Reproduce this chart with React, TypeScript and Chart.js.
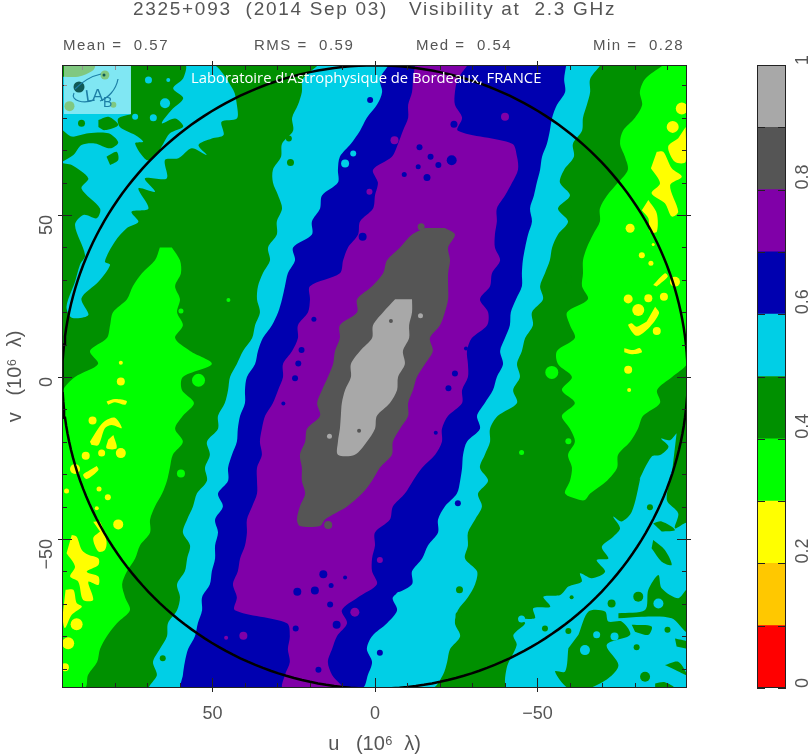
import React, { useEffect, useRef } from "react";
import { Chart, registerables } from "chart.js";

Chart.register(...registerables);

const vRows = [96,92,88,84,80,76,72,68,64,60,56,52,48,44,40,36,32,28,24,20,16,12,8,4,0,-4,-8,-12,-16,-20,-24,-28,-32,-36,-40,-44,-48,-52,-56,-60,-64,-68,-72,-76,-80,-84,-88,-92,-96];
const cyanLeft = [17.8,22.2,22.5,23.7,25.5,25.2,28.6,28.9,31.4,31.4,29.8,28.6,30.2,30.2,32.9,32.3,34.5,36,36.3,35.4,36.9,37.8,40.6,42.5,44.6,45.2,46.2,48.3,48.3,51.7,50.8,52.3,51.7,54.8,56,57.8,59.1,56.9,57.8,58.5,60.9,60,60.9,63.7,64,66.2,68.3,67.1,69.2];
const cyanRight = [-69.2,-66.2,-66.2,-65.2,-64,-63.7,-60.9,-61.2,-58.2,-56.9,-60,-56.3,-59.4,-56.3,-54.5,-53.8,-52.3,-50.8,-51.7,-48.3,-48.6,-46.2,-45.2,-43.7,-44.6,-42.5,-43.7,-37.8,-35.4,-35.4,-33.8,-32.3,-34.8,-31.7,-32.9,-30.8,-28.6,-28.6,-27.7,-31.4,-30.8,-28.6,-25.5,-24.6,-26.2,-23.1,-22.2,-20.9,-17.5];
const blueLeft = [-4,-1.5,-2.2,-0.6,2.5,4.6,7.4,10.8,11.4,11.4,16.3,16.9,19.4,19.4,25.2,24.6,26.8,27.7,28.6,29.8,31.7,34.5,36,36.9,39.4,40,40,41.5,42.2,42.5,44,45.2,45.2,48.3,46.8,49.2,48.3,49.2,49.2,50.2,50.8,53.2,53.2,54.5,55.4,57.5,58.5,59.1,59.4];
const blueRight = [-58.8,-58.2,-58.5,-56,-54.5,-53.8,-52.9,-51.4,-50.8,-49.8,-48.9,-47.7,-48.3,-47.1,-46.2,-45.5,-45.2,-45.2,-43.4,-41.8,-41.5,-40,-38.5,-39.4,-37.5,-36.3,-33.8,-31.4,-32.3,-28.3,-27.1,-26.8,-26.2,-25.2,-21.5,-19.4,-19.4,-16.3,-14.5,-11.4,-11.4,-5.5,-6.8,-3.7,0.9,2.5,0.9,2.2,4];
const purpleLeft = [-12.3,-11.7,-11.4,-10.2,-10.2,-8.6,-7.1,-5.2,0.6,-0.9,0,0.6,4.6,5.2,8.3,9.8,10.8,20,20,20.6,23.7,23.7,25.5,28.3,28.3,29.8,31.4,33.8,34.8,35.4,34.8,36.3,36.3,36.3,37.8,39.4,39.4,40,41.5,42.2,43.7,42.5,43.1,27.1,26.2,26.8,26.2,27.7,28.3];
const purpleRight = [-28.3,-25.5,-24.6,-24.6,-26.8,-25.5,-42.2,-43.7,-44,-42.2,-40,-37.5,-37.5,-36.9,-36.9,-38.5,-36,-35.4,-32.3,-34.8,-34.5,-29.8,-28.3,-28.6,-28.6,-26.8,-26.8,-22.5,-20.6,-20.6,-18.5,-14.5,-11.7,-9.2,-5.5,-4.6,0,0,0.9,0.9,-0.6,5.2,10.2,8.6,11.7,13.2,14.5,13.2,10.2];

const darkRows = [46,44,40,36,32,28,24,20,16,12,8,4,0,-4,-8,-12,-16,-20,-24,-28,-32,-36,-40,-44,-46];
const darkLeft = [-15.4,-11.4,-7.7,-3.7,-2.5,0.9,5.5,5.5,10.8,10.8,12.3,12.9,14.5,16.3,17.8,16.9,20.9,21.5,23.1,22.5,22.5,21.5,23.1,24,23.1];
const darkRight = [-21.5,-24.6,-22.5,-23.1,-22.5,-22.5,-22.5,-21.5,-20,-16.9,-17.8,-15.4,-12.9,-11.7,-10.2,-10.2,-7.7,-5.5,-5.2,-1.5,0.9,4,8.6,15.4,16.9];

const grayRows = [24,20,16,12,8,4,0,-4,-8,-12,-16,-20,-24];
const grayLeft = [-6.2,-2.5,0.6,0.9,4.6,7.4,7.4,9.2,10.2,10.5,10.8,11.4,11.4];
const grayRight = [-11.4,-11.4,-10.5,-10.5,-8.6,-9.2,-7.1,-6.8,-4.6,-0.6,0,2.5,6.2];

const leftLobeRows = [40,36,32,28,24,20,16,12,8,4,0,-4,-8,-12,-16,-20,-24,-28,-32,-36,-40,-44,-48,-52,-56,-60,-64,-68,-72,-76,-80,-84,-88,-92,-96];
const leftLobeOuter = [66.2,67.7,71.7,74.5,76.3,80.6,81.5,82.5,87.7,85.2,92.3,96,96.3,96.3,96.3,96.3,96.3,96.3,96.3,96.3,96.3,96.3,96.3,96.3,96.3,96.3,96.3,96.3,96.3,96.3,96.3,96.3,96.3,96.3,96.3];
const leftLobeInner = [62.5,60,59.7,61.5,60,60.9,59.1,61.5,56.9,50.2,59.1,59.4,55.7,59.1,61.5,59.1,62.2,63.1,64,65.5,67.7,69.2,69.2,72.3,73.8,76.3,77.8,76.9,75.4,79.4,82.5,84.6,85.5,88.3,89.2];

const rightLobeRows = [96,92,88,84,80,76,72,68,64,60,56,52,48,44,40,36,32,28,24,20,16,12,8,4,0,-4,-8,-12,-16,-20,-24,-28,-32,-36,-38];
const rightLobeInner = [-88.3,-83.1,-81.5,-82.2,-80,-76.3,-75.4,-76.9,-77.8,-74.8,-71.4,-69.2,-69.2,-67.1,-65.2,-64,-64,-63.7,-65.5,-59.1,-60,-61.5,-56,-56.3,-60.6,-57.5,-61.5,-57.5,-60,-61.5,-59.4,-60.6,-60,-58.5,-63.1];
const rightLobeOuter = [-96,-96,-96,-96,-96,-96,-96,-96,-96,-96,-96,-96,-96,-96,-96,-96,-96,-96,-96,-96,-96,-96,-96,-96,-91.4,-86.8,-87.7,-82.5,-80.9,-78.5,-74.8,-74.5,-71.4,-66.2,-64.6];

const yellowShapes = [
  [[93.3,-48.8],[91.8,-49.3],[90.2,-53.4],[88.2,-54.9],[85.1,-56],[85.1,-58],[88.7,-60.1],[85.1,-61.6],[85.1,-64.2],[88.2,-63.2],[86.7,-68.8],[89.8,-68.8],[91.3,-63.2],[93.8,-61.6],[92.3,-58.5],[94.9,-54.4]],
  [[95.2,-65.7],[92.8,-65.7],[91.8,-69.8],[90.2,-70.9],[93.3,-73.4],[95.4,-77.5],[96.2,-74.5]],
  [[82.6,-7.6],[80,-6.8],[76.4,-7.4],[76.9,-8.6],[80,-7.8],[82.1,-8.6]],
  [[87.7,-20],[85.1,-15.8],[83.1,-13.6],[80,-12.6],[77.9,-15.8],[81,-14.8],[83.1,-15.8],[85.1,-21],[87.2,-21]],
  [[80.5,-17.9],[79.5,-22],[82.6,-22],[82.1,-19.4]],
  [[85.6,-27.5],[85.1,-28.7],[88.7,-31.5],[89.8,-30.2],[87.7,-28.7]],
  [[86.7,-44.7],[84.6,-44.7],[82.6,-50.8],[83.1,-53.4],[85.1,-53.9],[86.7,-49.8],[84.6,-47.7]],
  [[-86.7,69.5],[-88.7,69.5],[-91.3,64.4],[-94.4,61.8],[-90.8,59.2],[-93.3,51],[-91.3,49.5],[-89.2,53.6],[-85.1,56.7],[-87.7,59.8],[-84.9,64.4]],
  [[-95.6,77.2],[-95.6,66.4],[-92.3,66.4],[-90.2,71.1],[-93.3,73.7]],
  [[-84.1,54.6],[-86.7,50.5],[-86.7,44.8],[-84.6,44.8],[-84.1,49],[-82.1,51.5]],
  [[-85.6,28.4],[-89.2,32],[-90.1,31],[-86.7,27.9]],
  [[-86.2,21.7],[-87.4,19.7],[-84.1,15],[-80.5,12.7],[-77.9,16],[-79,16.6],[-80.5,15.5],[-83.6,17.1]],
  [[-76.7,8.9],[-79.5,8.3],[-81.5,8.9],[-82.1,7.6],[-79,7],[-76.7,7.6]],
];
const yellowSpots = [[78.2,-1.4,4],[78.2,4.4,2],[86.9,-13.4,4],[89,-24.3,4],[84.1,-23.5,3.5],[78.2,-23.5,5],[85.6,-40.5,2],[79,-45.5,5],[82.2,-37.1,3],[84.9,-34.6,2.5],[94.9,-35.2,2.5],[91.8,-76.3,6],[94.4,-82.2,6],[95.4,-89.6,4],[92.3,-28.4,5],[-94.4,82.9,6],[-91.6,77.2,6],[-78.5,45.9,4.5],[-82.1,37.6,3],[-84.9,35.1,2.5],[-85.6,40.9,1.5],[-92.3,29.4,5],[-77.9,24.1,4.5],[-84.1,24.3,4],[-88.9,24.8,4],[-81,20.7,6],[-86.7,14.2,4],[-77.9,2.2,4],[-78.2,-4,2]];
const greenSpots = [[45.1,23.8,2],[59.7,20.4,2.5],[-45.1,-23.3,2.5],[-59.5,-19.8,3],[59.7,-29.8,4],[54.3,-1,6.5],[-54.4,1.4,6.5]];

const cyanCornerTL = [[58.5,96.5],[49.7,96.5],[43.6,88.6],[42.5,84],[42.5,79.8],[47.2,78.8],[46.6,74.7],[50.2,73.6],[54.3,71.6],[51.8,68.5],[56.4,70.6],[60.5,67.5],[64.6,67],[64.1,61.3],[70.8,61.3],[67.7,57.2],[72.8,58.2],[69.7,52],[74.9,51],[72.8,47.9],[76.4,45.9],[80,41.8],[83.1,35.6],[81.5,34.6],[85.1,29.4],[90.3,24.3],[88.2,19.1],[93.3,18.3],[94.9,21.7],[92.3,29.4],[90.8,34.6],[89.2,37.6],[92.3,46.9],[89.7,50],[85.6,49],[84.6,52],[90.3,58.2],[88.2,61.3],[93.3,65.4],[96.3,66.4],[96.3,96.5]];
const cyanCornerBR = [[-92.8,-17.4],[-90.8,-19.5],[-88,-19],[-90.3,-21.5],[-87.7,-24.1],[-85.1,-24.6],[-81,-32.3],[-81.6,-31.3],[-79,-41.6],[-75.9,-44.6],[-73.3,-43.1],[-75.4,-46.7],[-73.3,-49.3],[-69.8,-52.4],[-71.8,-56],[-68.2,-56.5],[-70.8,-60.1],[-66.7,-62.1],[-63.1,-60.6],[-63.6,-63.2],[-59.5,-64.7],[-57,-67.3],[-51.8,-67.8],[-53.9,-70.9],[-48.7,-71.4],[-49.2,-74.5],[-44.1,-74.5],[-46.2,-76],[-42.6,-79.6],[-43.6,-82.7],[-40.5,-89.9],[-41,-96.1],[-96,-96.1],[-96,-45.2],[-92.3,-46.7],[-93.3,-42.1],[-89.8,-38],[-91.3,-30.2]];
const greenIslands = [
  [[75.1,96.5],[58.5,96.5],[59,92.2],[62.1,89.1],[59,86],[62.6,82.4],[65.6,78.3],[61.5,79.8],[59,77.3],[63.1,75.2],[65.1,72.1],[67.7,68],[70.3,67],[73.8,72.1],[71.3,72.6],[73.8,74.7],[78.5,77.2],[79,79.8],[75.1,81.1]],
  [[96.2,76.2],[93.3,74.2],[88.2,75.2],[82,75.2],[79,72.4],[81.5,70.6],[86.2,72.1],[90.3,71.6],[92.8,68.5],[96.2,66.4]],
  [[85.1,79.3],[82,80.3],[79,77.8],[83.1,76.2],[85.1,77.2]],
  [[82.6,68],[79.5,69.5],[79,67],[81.5,65.4]],
  [[96.2,96.5],[86.2,96.5],[86.7,94.7],[91.3,92.7],[96.2,92.7]],
  [[-62.6,-79.6],[-65.7,-72.4],[-70.8,-72.4],[-71.8,-75.5],[-75.9,-75.5],[-78.5,-79.6],[-71.3,-82.7],[-74.9,-88.9],[-71.8,-93],[-65.7,-96.1],[-59.5,-96.1],[-55.4,-90.9],[-58.5,-90.9],[-59.5,-83.7]],
  [[-74.9,-72.9],[-83.1,-71.9],[-84.1,-65.7],[-87.2,-61.1],[-88.2,-65.2],[-93.3,-68.3],[-96,-65.7],[-96,-78.6],[-91.3,-74.5],[-82.1,-74],[-74.9,-74.5]],
  [[-79,-76.5],[-85.1,-77],[-84.1,-79.6],[-80,-78.6]],
  [[-85.6,-50.3],[-89.2,-53.4],[-91.3,-58],[-88.2,-57],[-85.1,-52.9]],
  [[-85.6,-45.2],[-88.2,-44.6],[-92.3,-47.2],[-88.2,-47.7]],
  [[-92.3,-80.7],[-96,-81.7],[-96,-83.7],[-92.8,-83.2]],
  [[-89.2,-88.9],[-93.3,-87.9],[-96,-92],[-92.3,-90.4]],
  [[-86.2,-94.6],[-89.2,-94.2],[-92.3,-96.1],[-86.2,-96.1]],
];
const darkGreenSpots = [[90.3,78.3,3.5],[83.1,93.2,4.5],[94,83.6,5],[80.5,84,3],[-83.1,-92.5,5],[-80.5,-83.4,3],[-90,-78,3],[-60.5,-68,2],[-84.6,-40.2,3],[-52.3,-77.6,3],[-59.5,-78.4,3],[-72.8,-69.9,4],[-81,-67.8,5],[26,66.2,3.5],[26.5,73.6,3],[-26,-65.7,3.5],[-25.7,-73.5,3],[65.3,-86.8,3],[-59.5,30.2,4]];
const cyanSpots = [[69.7,91.7,3.5],[63.6,91.7,2],[64.6,84.5,5],[68.2,80,3.5],[73.8,80.3,3],[-64.6,-84.3,5],[-68.2,-79.6,3.5],[-73.7,-80.1,4],[-87.2,-69.9,5],[-90.8,-63.7,5],[-45.1,-74.7,3.5],[9.2,65.9,4],[6.7,69,3],[-7.7,-67.5,4]];
const blueSpots = [[-24.3,78,3.5],[-13.7,70.9,3],[-17.1,68,3],[-19.5,65.4,3],[-23.6,66.9,5],[-13.3,64.9,2.5],[-9,62.5,2.5],[-16,61.6,3.5],[3.8,43.3,4],[18.8,17.8,2.5],[23.6,4.2,3],[24.6,-0.4,3],[-24.6,1.1,3],[-22.6,-3.5,3],[-28,8.8,2],[28.2,-8.2,2],[-18.7,-17.2,2],[22.6,8.3,3],[15.9,-60.9,4],[13.5,-64.4,2.5],[9.2,-61.9,2],[23.9,-66.3,4],[18.5,-65.9,4],[13.8,-70.2,3],[24.4,-77.6,3],[17.4,-90.4,3],[11.8,-76.5,4],[1.5,85.5,3],[-1.5,-85.1,3],[-25.5,-39,3]];
const purpleSpots = [[-6,73.1,4],[1.7,57.2,3],[-40,80.3,4],[-1.5,-56.5,3],[6.2,-72.6,4.5],[40.5,-79.9,4],[45.8,-80.5,2]];
const darkSpots = [[-14.2,46.4,3.5],[14.4,-45.7,4]];
const graySpots = [[-14,18.9,2.5],[14,-18.3,2.5]];
const darkOnGraySpots = [[-4.9,17.3,2],[4.9,-16.6,2]];

const levelEdges = [0,0.1,0.2,0.3,0.4,0.5,0.6,0.7,0.8,0.9,1];
const levelColors = ["#ff0000","#ffc800","#ffff00","#00ff00","#009000","#00cfe6","#0000b0","#8000a8","#555555","#a8a8a8"];
const [cYellow,cGreen,cDarkGreen,cCyan,cBlue,cPurple,cDark,cGray] = levelColors.slice(2);

const uLimits = [-96, 96.3];
const vLimits = [-96, 96.3];
const axisLabelTicks = [50, 0, -50];
const circleRadius = 96.2;

const band = (rows: number[], left: number[], right: number[]) => [
  ...rows.map((v, i) => ({ x: left[i], y: v })),
  ...rows.map((v, i) => ({ x: right[i], y: v })).reverse(),
];
const shape = (color: string, pts: { x: number; y: number }[] | number[][], tension = 0.3) => ({
  type: "scatter",
  showLine: true,
  fill: "shape",
  borderWidth: 0,
  pointRadius: 0,
  tension,
  backgroundColor: color,
  data: (pts as any[]).map((p) => (Array.isArray(p) ? { x: p[0], y: p[1] } : p)),
});
const spots = (color: string, list: number[][]) => ({
  type: "bubble",
  backgroundColor: color,
  borderWidth: 0,
  data: list.map(([x, y, r]) => ({ x, y, r })),
});

const axisFont = { family: "'Liberation Sans'", size: 18 };
const titleFont = { family: "'Liberation Sans'", size: 20 };
const inkColor = "#555";
const minusLabel = (v: any) => String(v).replace("-", "\u2212");

const tickPlugin = {
  id: "pgTicks",
  afterDatasetsDraw(chart: any) {
    const { ctx, chartArea: a, scales } = chart;
    const ux = scales.x;
    const vy = scales.y;
    ctx.save();
    ctx.strokeStyle = "#222";
    ctx.lineWidth = 1;
    const line = (x1: number, y1: number, x2: number, y2: number) => {
      ctx.beginPath();
      ctx.moveTo(x1, y1);
      ctx.lineTo(x2, y2);
      ctx.stroke();
    };
    for (let t = -90; t <= 90; t += 10) {
      const major = t % 50 === 0;
      const px = Math.round(ux.getPixelForValue(t)) + 0.5;
      const py = Math.round(vy.getPixelForValue(t)) + 0.5;
      const len = major ? 10 : 5;
      const out = major ? 4 : 0;
      line(px, a.bottom + out, px, a.bottom - len);
      line(px, a.top - out, px, a.top + len);
      line(a.left - out, py, a.left + len, py);
      line(a.right + out, py, a.right - len, py);
    }
    ctx.strokeRect(a.left + 0.5, a.top + 0.5, a.width - 1, a.height - 1);
    ctx.restore();
  },
};

const barTickPlugin = {
  id: "barTicks",
  afterDatasetsDraw(chart: any) {
    const { ctx, chartArea: a, scales } = chart;
    ctx.save();
    ctx.strokeStyle = "#222";
    for (const e of levelEdges) {
      const py = Math.round(scales.y.getPixelForValue(e)) + 0.5;
      ctx.beginPath();
      ctx.moveTo(a.left, py);
      ctx.lineTo(a.left + 8, py);
      ctx.moveTo(a.right, py);
      ctx.lineTo(a.right - 8, py);
      ctx.stroke();
    }
    ctx.strokeRect(a.left + 0.5, a.top + 0.5, a.width - 1, a.height - 1);
    ctx.restore();
  },
};

const textItems: [string, number, number, number, number][] = [
  ["2325+093  (2014 Sep 03)   Visibility at  2.3 GHz", 133, 9, 19, 1.7],
  ["Mean =  0.57", 63, 44, 15, 1.5],
  ["RMS =  0.59", 254, 44, 15, 1.5],
  ["Med =  0.54", 416, 44, 15, 1.5],
  ["Min =  0.28", 593, 44, 15, 1.5],
];

export default function App() {
  const mainRef = useRef<HTMLCanvasElement>(null);
  const barRef = useRef<HTMLCanvasElement>(null);

  useEffect(() => {
    const circle = Array.from({ length: 241 }, (_, i) => ({
      x: circleRadius * Math.cos((i * Math.PI) / 120),
      y: circleRadius * Math.sin((i * Math.PI) / 120),
    }));
    const bottomUp: any[] = [
      shape(cDarkGreen, [
        [uLimits[0], vLimits[0]],
        [uLimits[1], vLimits[0]],
        [uLimits[1], vLimits[1]],
        [uLimits[0], vLimits[1]],
      ], 0),
      shape(cGreen, band(leftLobeRows, leftLobeOuter, leftLobeInner)),
      shape(cGreen, band(rightLobeRows, rightLobeInner, rightLobeOuter)),
      spots(cGreen, greenSpots),
      ...yellowShapes.map((s) => shape(cYellow, s)),
      spots(cYellow, yellowSpots),
      shape(cCyan, cyanCornerTL),
      shape(cCyan, cyanCornerBR),
      ...greenIslands.map((s) => shape(cDarkGreen, s)),
      shape(cCyan, band(vRows, cyanLeft, cyanRight)),
      spots(cDarkGreen, darkGreenSpots),
      shape(cBlue, band(vRows, blueLeft, blueRight)),
      spots(cCyan, cyanSpots),
      spots(cPurple, purpleSpots),
      shape(cPurple, band(vRows, purpleLeft, purpleRight)),
      spots(cBlue, blueSpots),
      spots(cDark, darkSpots),
      shape(cDark, band(darkRows, darkLeft, darkRight)),
      spots(cGray, graySpots),
      shape(cGray, band(grayRows, grayLeft, grayRight)),
      spots(cDark, darkOnGraySpots),
      {
        type: "scatter",
        showLine: true,
        fill: false,
        borderColor: "#000",
        borderWidth: 2.5,
        pointRadius: 0,
        data: circle,
      },
    ];
    const main = new Chart(mainRef.current as any, {
      type: "scatter",
      data: { datasets: bottomUp.reverse() },
      plugins: [tickPlugin],
      options: {
        animation: false,
        responsive: false,
        events: [],
        layout: { padding: { top: 65, right: 123, left: 0, bottom: 0 } },
        plugins: { legend: { display: false }, tooltip: { enabled: false } },
        scales: {
          x: {
            type: "linear",
            reverse: true,
            min: uLimits[0],
            max: uLimits[1],
            afterFit: (s: any) => { s.height = 68; },
            afterBuildTicks: (s: any) => { s.ticks = axisLabelTicks.map((value) => ({ value })); },
            grid: { display: false },
            border: { display: false },
            ticks: { color: inkColor, font: axisFont, padding: 7, maxRotation: 0, autoSkip: false, callback: minusLabel },
            title: { display: true, text: "u   (10⁶  λ)", color: inkColor, font: titleFont, padding: { top: 0, bottom: 0 } },
          },
          y: {
            type: "linear",
            min: vLimits[0],
            max: vLimits[1],
            afterFit: (s: any) => { s.width = 62; },
            afterBuildTicks: (s: any) => { s.ticks = axisLabelTicks.map((value) => ({ value })); },
            grid: { display: false },
            border: { display: false },
            ticks: { color: inkColor, font: axisFont, padding: 7, minRotation: 90, maxRotation: 90, autoSkip: false, callback: minusLabel },
            title: { display: true, text: "v   (10⁶  λ)", color: inkColor, font: titleFont, padding: { top: 3, bottom: 0 } },
          },
        },
      } as any,
    } as any);

    const bar = new Chart(barRef.current as any, {
      type: "bar",
      data: {
        labels: [""],
        datasets: levelColors.map((c, i) => ({
          data: [levelEdges[i + 1] - levelEdges[i]],
          backgroundColor: c,
          barPercentage: 1,
          categoryPercentage: 1,
          borderWidth: 0,
        })),
      },
      plugins: [barTickPlugin],
      options: {
        animation: false,
        responsive: false,
        events: [],
        layout: { padding: { top: 65, left: 7, right: 0, bottom: 68 } },
        plugins: { legend: { display: false }, tooltip: { enabled: false } },
        scales: {
          x: { stacked: true, display: false },
          y: {
            stacked: true,
            position: "right",
            min: 0,
            max: 1,
            afterFit: (s: any) => { s.width = 24; },
            grid: { display: false },
            border: { display: false },
            ticks: {
              stepSize: 0.2,
              color: inkColor,
              font: axisFont,
              padding: 9,
              minRotation: 90,
              maxRotation: 90,
              callback: (v: any) => String(Number(v).toFixed(1)).replace(/\.0$/, ""),
            },
          },
        },
      } as any,
    } as any);

    return () => {
      main.destroy();
      bar.destroy();
    };
  }, []);

  return (
    <div style={{ position: "absolute", left: 0, top: 0, width: 810, height: 756, overflow: "hidden", background: "#fff" }}>
      <canvas ref={mainRef} width={810} height={756} style={{ position: "absolute", left: 0, top: 0, display: "block" }} />
      <canvas ref={barRef} width={60} height={756} style={{ position: "absolute", left: 750, top: 0, display: "block" }} />
      {textItems.map(([t, x, y, s, ls]) => (
        <div
          key={t}
          style={{
            position: "absolute",
            left: x,
            top: y,
            transform: "translateY(-50%)",
            font: `${s}px 'Liberation Sans'`,
            color: inkColor,
            whiteSpace: "pre",
            letterSpacing: ls,
          }}
        >
          {t}
        </div>
      ))}
      <div style={{ position: "absolute", left: 64, top: 66, width: 67, height: 48, background: "rgba(255,255,255,0.5)" }} />
      <svg width="67" height="48" style={{ position: "absolute", left: 64, top: 66 }}>
        <circle cx="15" cy="21" r="5.5" fill="#0f5a55" />
        <path d="M10 27 C6 35 20 38 30 34 M11 23 C20 14 28 10 37 8 M54 13 C52 24 44 32 36 35" stroke="#1d7fa6" strokeWidth="1.2" fill="none" />
        <circle cx="40" cy="9" r="1.5" fill="#0f5a55" />
        <text x="22" y="36" fontFamily="'Liberation Sans'" fontSize="17" fill="#1d7fa6" transform="rotate(-8 22 36)">L</text>
        <text x="28" y="35" fontFamily="'Liberation Sans'" fontSize="17" fill="#1d7fa6">A</text>
        <text x="39" y="41" fontFamily="'Liberation Sans'" fontSize="14" fill="#1d7fa6">B</text>
      </svg>
      <div style={{ position: "absolute", left: 191, top: 77, transform: "translateY(-50%)", font: "14.8px 'Open Sans'", color: "#fff", whiteSpace: "pre" }}>
        Laboratoire d'Astrophysique de Bordeaux, FRANCE
      </div>
    </div>
  );
}
